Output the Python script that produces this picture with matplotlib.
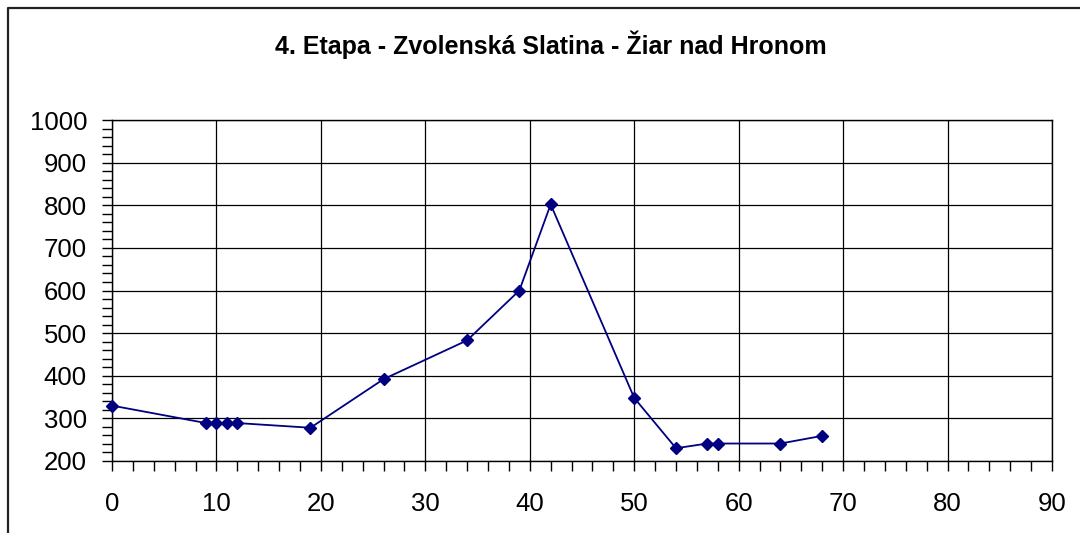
import matplotlib
matplotlib.use("Agg")
import matplotlib.pyplot as plt
from matplotlib.lines import Line2D
from matplotlib.ticker import MultipleLocator

plt.rcParams['font.family'] = ['Liberation Sans', 'DejaVu Sans']

title = "4. Etapa - Zvolenská Slatina - Žiar nad Hronom"
distance_km = [0, 9, 10, 11, 12, 19, 26, 34, 39, 42, 50, 54, 57, 58, 64, 68]
altitude_m = [330, 289, 289, 289, 289, 278, 392, 483, 600, 802, 348, 230, 241, 241, 241, 259]
x_ticks = [0, 10, 20, 30, 40, 50, 60, 70, 80, 90]
y_ticks = [200, 300, 400, 500, 600, 700, 800, 900, 1000]

W, H = 1080, 533
fig = plt.figure(figsize=(W / 100, H / 100), dpi=100)
fig.patch.set_facecolor('white')

ax = fig.add_axes([112 / W, 1 - 461 / H, (1052 - 112) / W, (461 - 120) / H])
ax.plot(distance_km, altitude_m, color='#000080', linewidth=1.3,
        marker='D', markersize=6.5, markerfacecolor='#000080',
        markeredgecolor='#000080', zorder=3, clip_on=False)

ax.set_xlim(0, 90)
ax.set_ylim(200, 1000)
ax.set_xticks(x_ticks)
ax.set_yticks(y_ticks)
ax.xaxis.set_minor_locator(MultipleLocator(2))
ax.yaxis.set_minor_locator(MultipleLocator(20))
ax.grid(True, which='major', color='black', linewidth=0.9)
ax.set_axisbelow(True)
for s in ax.spines.values():
    s.set_color('black')
    s.set_linewidth(1.0)
ax.tick_params(axis='both', which='major', direction='out', length=7, width=1,
               colors='black', labelsize=18.5)
ax.tick_params(axis='both', which='minor', direction='out', length=7, width=1,
               colors='black')
ax.tick_params(axis='x', which='both', pad=15)
ax.tick_params(axis='y', which='both', pad=11)

fig.text(551 / W, 1 - 45 / H, title, ha='center', va='center',
         fontsize=18, fontweight='bold')

# outer frame (top and left edges)
fig.add_artist(Line2D([8 / W, 8 / W, 1.0], [0.0, 1 - 8 / H, 1 - 8 / H],
                      transform=fig.transFigure, color='#222222', linewidth=1.6))

fig.savefig('out.png', dpi=100)
